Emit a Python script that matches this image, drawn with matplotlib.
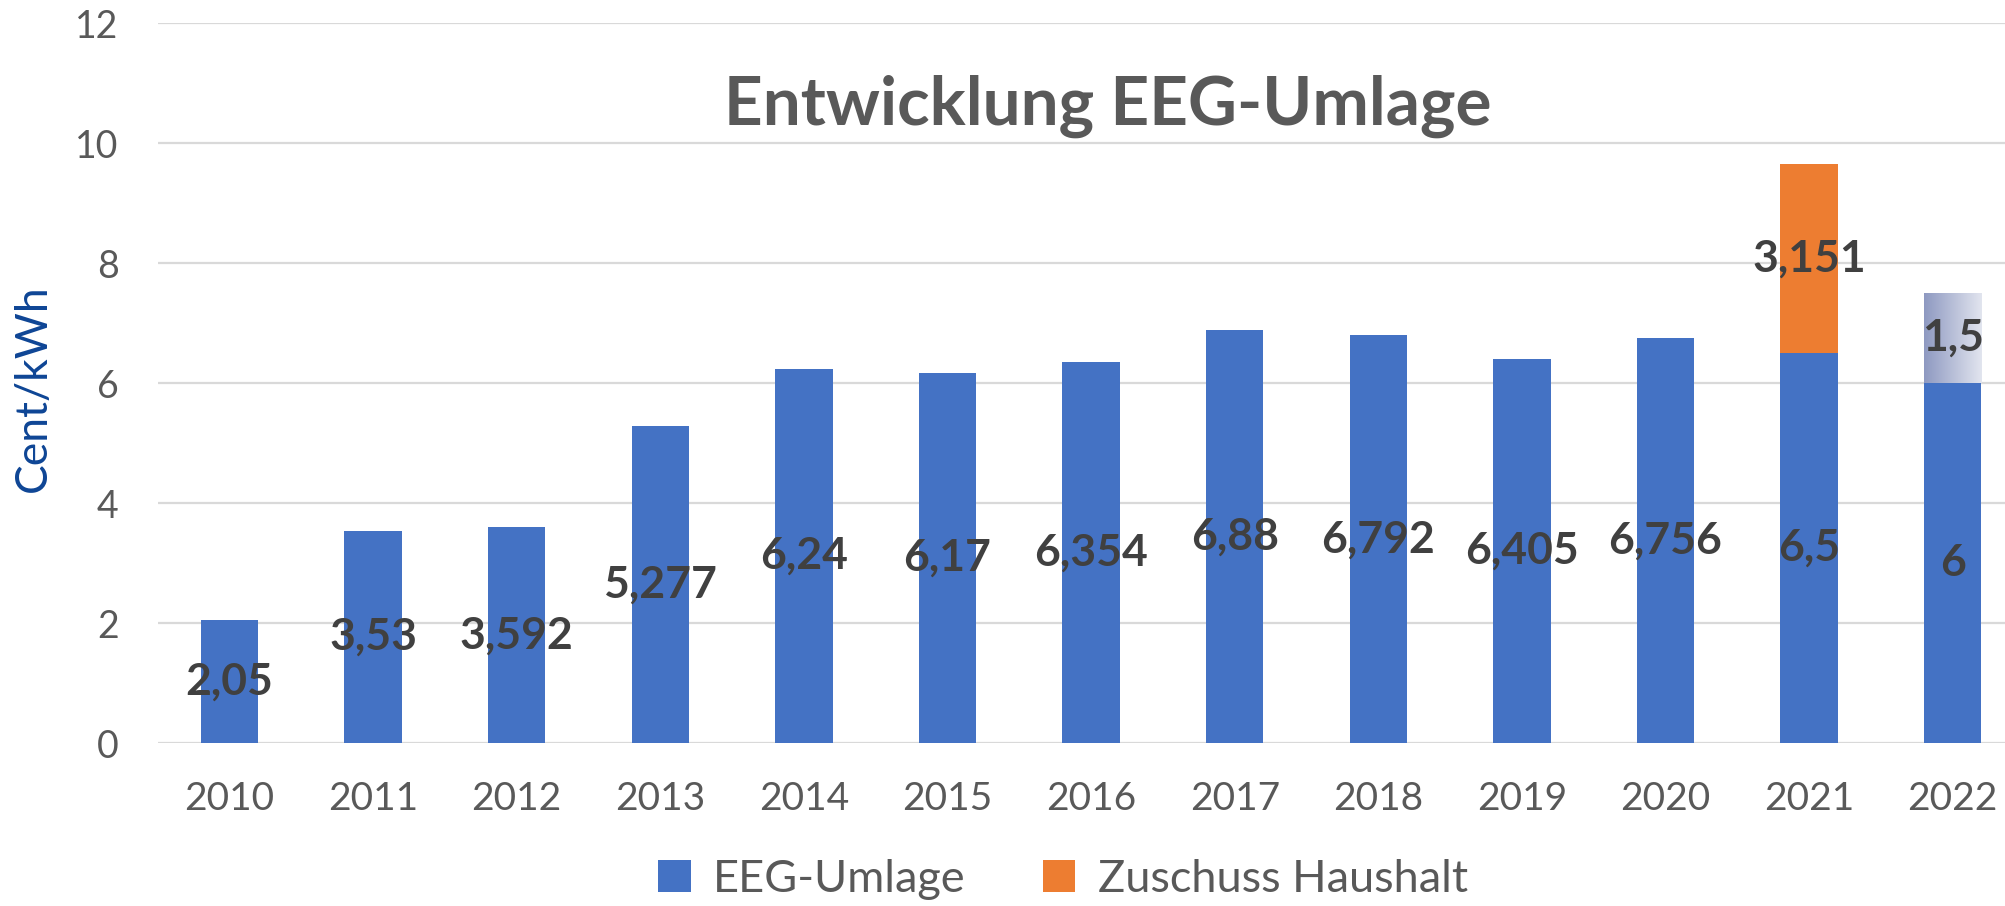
import numpy as np
import matplotlib
matplotlib.use("Agg")
import matplotlib.pyplot as plt
from matplotlib.colors import LinearSegmentedColormap

plt.rcParams['font.family'] = ['Lato', 'DejaVu Sans']

years = ["2010", "2011", "2012", "2013", "2014", "2015", "2016",
         "2017", "2018", "2019", "2020", "2021", "2022"]
eeg_umlage = [2.05, 3.53, 3.592, 5.277, 6.24, 6.17, 6.354, 6.88, 6.792, 6.405, 6.756, 6.5, 6]
zuschuss = [np.nan] * 11 + [3.151, 1.5]
yticks = [0, 2, 4, 6, 8, 10, 12]

title = "Entwicklung EEG-Umlage"
ylabel = "Cent/kWh"
series_names = ["EEG-Umlage", "Zuschuss Haushalt"]

BLUE = "#4472C4"
ORANGE = "#ED7D31"
GRID = "#D9D9D9"
TXT = "#595959"
LBL = "#404040"

W, H = 2005, 906
fig = plt.figure(figsize=(W / 100, H / 100), dpi=100)
ax = fig.add_axes([157.7 / W, 163 / H, 1866.8 / W, 720 / H])

x = np.arange(len(years))
b1 = ax.bar(x, eeg_umlage, width=0.40, color=BLUE, label=series_names[0], zorder=2)
zb = np.nan_to_num(zuschuss)
b2 = ax.bar(x, zb, bottom=eeg_umlage, width=0.40, color=ORANGE,
            label=series_names[1], zorder=2)

# gradient fill for the last (forecast) segment
last = b2.patches[-1]
last.set_facecolor("none")
grad_cmap = LinearSegmentedColormap.from_list("g", ["#8E99C1", "#E2E5EF"])
gx0, gy0 = last.get_x(), last.get_y()
gx1, gy1 = gx0 + last.get_width(), gy0 + last.get_height()
im = ax.imshow(np.linspace(0, 1, 256).reshape(1, -1), cmap=grad_cmap,
               extent=(gx0, gx1, gy0, gy1), aspect="auto", zorder=2,
               interpolation="bilinear")
im.set_clip_path(last)


def fmt(v):
    return ("{:g}".format(v)).replace(".", ",")


lab_kw = dict(fontsize=32, fontweight="bold", color=LBL, zorder=5)
for rect, v in zip(b1.patches, eeg_umlage):
    ax.text(rect.get_x() + rect.get_width() / 2, rect.get_y() + rect.get_height() / 2,
            fmt(v), ha="center", va="center", **lab_kw)
for rect, v in zip(b2.patches, zuschuss):
    if np.isnan(v):
        continue
    ax.text(rect.get_x() + rect.get_width() / 2, rect.get_y() + rect.get_height() / 2,
            fmt(v), ha="center", va="center", **lab_kw)

ax.set_xlim(-0.5, len(years) - 0.5)
ax.set_ylim(0, 12)
ax.set_yticks(yticks)
ax.set_yticklabels([str(t) for t in yticks])
ax.set_xticks(x)
ax.set_xticklabels(years)
ax.tick_params(axis="y", length=0, pad=28, labelsize=27, labelcolor=TXT)
ax.tick_params(axis="x", length=0, pad=27, labelsize=28, labelcolor=TXT)
ax.grid(axis="y", color=GRID, linewidth=1.6)
ax.set_axisbelow(True)
for s in ax.spines.values():
    s.set_visible(False)

fig.text(1108 / W, (H - 125) / H, title, ha="center", va="baseline",
         fontsize=48.5, fontweight="bold", color=TXT)
fig.text(33 / W, (H - 388) / H, ylabel, rotation=90, ha="center", va="center",
         fontsize=32, color="#0E4595")

handles = [b1, b2]
fig.legend(handles, series_names, loc="center", bbox_to_anchor=(1063 / W, 27 / H),
           ncol=2, frameon=False, fontsize=32.5, labelcolor=TXT,
           handlelength=0.72, handleheight=0.72, handletextpad=0.5,
           columnspacing=1.7, borderpad=0, borderaxespad=0)

fig.savefig("out.png", dpi=100)
